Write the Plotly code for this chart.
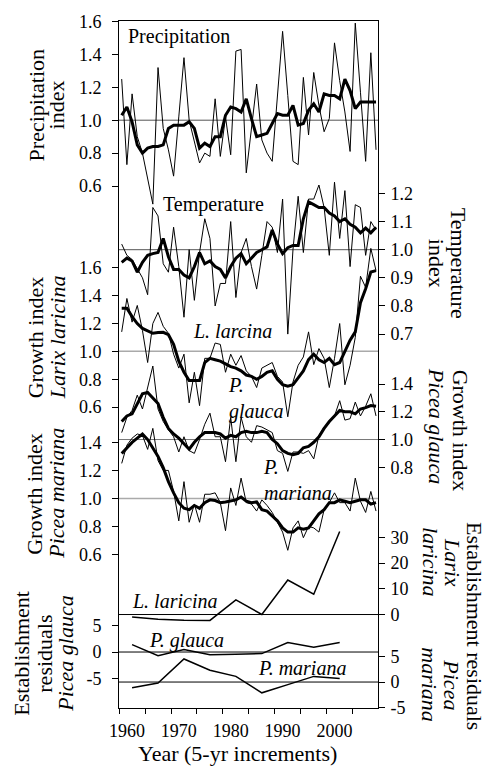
import plotly.graph_objects as go

# ---------------------------------------------------------------- data
years = list(range(1959, 2009))
est_years = [1961, 1966, 1971, 1976, 1981, 1986, 1991, 1996, 2001]

precip_annual = [1.25, 0.73, 1.16, 0.90, 0.80, 0.64, 0.49, 1.32, 0.95, 0.82,
                 0.66, 1.02, 1.38, 1.00, 0.87, 0.74, 0.80, 0.78, 1.13, 0.78,
                 1.02, 0.79, 1.42, 1.43, 0.68, 0.95, 1.22, 0.88, 0.80, 0.75,
                 1.13, 1.54, 1.15, 0.75, 0.73, 1.26, 0.91, 1.29, 1.09, 0.93,
                 1.01, 1.47, 1.24, 1.05, 0.81, 1.59, 1.17, 0.75, 1.41, 0.82]
precip_smooth = [1.03, 1.08, 0.99, 0.85, 0.80, 0.83, 0.84, 0.84, 0.85, 0.95,
                 0.97, 0.97, 0.97, 0.99, 0.95, 0.83, 0.86, 0.84, 0.90, 0.90,
                 1.03, 1.08, 1.07, 1.05, 1.13, 1.01, 0.90, 0.91, 0.92, 0.98,
                 1.04, 1.03, 1.03, 1.09, 0.97, 0.98, 1.06, 1.10, 1.05, 1.16,
                 1.15, 1.15, 1.13, 1.25, 1.18, 1.07, 1.11, 1.11, 1.11, 1.11]

temp_annual = [1.02, 0.98, 0.965, 0.93, 0.90, 0.84, 1.15, 1.12, 0.95, 0.92,
               1.08, 0.94, 0.76, 1.00, 0.82, 0.99, 1.11, 1.04, 0.80, 0.88,
               0.88, 1.10, 0.83, 0.99, 1.04, 0.94, 0.86, 0.98, 1.10, 1.08,
               0.99, 1.18, 0.70, 1.00, 1.19, 0.99, 1.18, 1.18, 1.23, 1.15,
               0.98, 1.24, 1.04, 1.21, 0.94, 1.16, 1.15, 0.98, 1.10, 1.07]
temp_smooth = [0.955, 0.97, 0.96, 0.92, 0.955, 0.98, 0.986, 0.99, 1.04, 0.975,
               0.93, 0.93, 0.91, 0.90, 0.94, 0.99, 0.95, 0.96, 0.94, 0.93,
               0.90, 0.94, 0.97, 0.986, 0.95, 0.97, 0.99, 1.00, 1.01, 1.07,
               1.02, 0.986, 1.007, 1.015, 1.015, 1.11, 1.17, 1.16, 1.15, 1.15,
               1.13, 1.12, 1.10, 1.11, 1.09, 1.08, 1.06, 1.077, 1.06, 1.08]

larix_annual = [1.14, 1.38, 1.21, 1.33, 1.15, 0.92, 1.20, 1.28, 1.18, 1.13,
                0.98, 0.88, 0.98, 0.63, 0.85, 0.61, 0.95, 0.95, 1.06, 1.05,
                0.85, 0.98, 0.90, 0.97, 0.86, 0.82, 0.74, 0.88, 0.90, 0.92,
                0.82, 0.78, 0.53, 0.78, 0.90, 0.96, 1.14, 0.905, 1.02, 0.95,
                0.74, 0.95, 1.20, 0.76, 0.90, 1.10, 1.54, 1.46, 1.74, 1.58]
larix_smooth = [1.31, 1.31, 1.25, 1.20, 1.165, 1.15, 1.13, 1.135, 1.137, 1.12,
                1.05, 0.93, 0.85, 0.79, 0.79, 0.79, 0.92, 0.95, 0.94, 0.93,
                0.91, 0.89, 0.88, 0.86, 0.83, 0.82, 0.80, 0.82, 0.85, 0.86,
                0.80, 0.76, 0.75, 0.76, 0.81, 0.86, 0.94, 0.98, 0.94, 0.92,
                0.95, 0.905, 0.92, 1.00, 1.08, 1.14, 1.35, 1.45, 1.57, 1.58]

glauca_annual = [1.05, 1.16, 1.21, 1.32, 1.22, 1.37, 1.53, 1.22, 1.13, 1.07,
                 1.02, 0.91, 1.02, 0.92, 0.90, 1.00, 1.11, 1.19, 1.02, 1.02,
                 0.84, 1.16, 0.84, 1.16, 1.02, 0.98, 1.10, 1.09, 1.07, 1.05,
                 0.92, 0.90, 0.77, 0.91, 0.91, 0.90, 0.92, 0.86, 1.03, 1.09,
                 1.13, 1.17, 1.28, 1.14, 1.15, 1.27, 1.17, 1.24, 1.33, 1.17]
glauca_smooth = [1.13, 1.17, 1.185, 1.26, 1.33, 1.34, 1.30, 1.26, 1.16, 1.08,
                 1.04, 1.01, 0.97, 0.93, 0.98, 1.02, 1.05, 1.05, 1.05, 1.04,
                 1.01, 1.03, 1.02, 1.05, 1.06, 1.05, 1.05, 1.06, 1.05, 1.00,
                 0.97, 0.92, 0.90, 0.89, 0.90, 0.94, 0.95, 0.98, 1.02, 1.08,
                 1.13, 1.17, 1.21, 1.20, 1.20, 1.185, 1.22, 1.23, 1.245, 1.24]

mariana_annual = [1.25, 1.38, 1.43, 1.46, 1.45, 1.35, 1.50, 1.27, 1.20, 1.20,
                  1.05, 0.84, 1.12, 0.83, 0.96, 0.83, 1.03, 1.03, 1.04, 0.97,
                  0.77, 1.075, 0.95, 1.145, 0.97, 0.96, 0.91, 0.99, 0.95, 0.90,
                  0.83, 0.76, 0.63, 0.79, 0.84, 0.72, 0.80, 0.79, 0.76, 0.92,
                  0.97, 1.04, 0.97, 0.97, 0.91, 1.145, 0.98, 0.90, 1.05, 0.91]
mariana_smooth = [1.32, 1.36, 1.40, 1.43, 1.46, 1.42, 1.36, 1.30, 1.22, 1.12,
                  1.04, 0.97, 0.93, 0.92, 0.95, 0.93, 0.97, 0.99, 0.985, 0.97,
                  0.975, 0.98, 0.99, 1.01, 0.98, 0.97, 0.975, 0.92, 0.91, 0.875,
                  0.84, 0.79, 0.76, 0.76, 0.79, 0.78, 0.79, 0.84, 0.89, 0.92,
                  0.97, 0.97, 0.99, 0.98, 0.97, 0.98, 0.99, 0.99, 0.96, 0.97]

est_larix = [-1.0, -1.8, -2.2, -2.3, 5.7, 0.0, 13.4, 7.9, 32.2]
est_glauca = [1.4, -0.7, 0.5, -0.5, -0.4, -0.3, 1.8, 0.9, 1.8]
est_mariana = [-1.1, -0.2, 4.5, 2.3, 1.1, -2.1, -0.5, 1.1, 0.7]

year_ticks = [1960, 1970, 1980, 1990, 2000]
precip_ticks = [0.6, 0.8, 1.0, 1.2, 1.4, 1.6]
temp_ticks = [0.7, 0.8, 0.9, 1.0, 1.1, 1.2]
larix_ticks = [0.6, 0.8, 1.0, 1.2, 1.4, 1.6]
glauca_ticks = [0.8, 1.0, 1.2, 1.4]
mariana_ticks = [0.6, 0.8, 1.0, 1.2, 1.4]
est_larix_ticks = [0, 10, 20, 30]
est_glauca_ticks = [-5, 0, 5]
est_mariana_ticks = [-5, 0, 5]

# ---------------------------------------------------------------- layout helpers
FONT = "Liberation Serif"
W, H = 487, 767
L, R, T, B = 119, 378, 12, 708          # plot area in pixels


def axis_range(v0, p0, px_per_unit):
    """Range of a stacked axis whose value v0 sits at pixel row p0."""
    return [v0 - (B - p0) / px_per_unit, v0 + (p0 - T) / px_per_unit]


def yaxis(rng, ticks, side, fmt, showline=False):
    return dict(range=rng, tickvals=ticks, ticktext=[fmt.format(t) for t in ticks],
                side=side, ticks="outside", ticklen=6, tickwidth=1, tickcolor="black",
                ticklabelstandoff=7 if side == "left" else 2,
                tickfont=dict(family=FONT, size=18, color="black"),
                showgrid=False, zeroline=False, showline=showline,
                linecolor="black", linewidth=1, fixedrange=True)


def note(text, px, py, size=20, angle=0, xanchor="center", align="center"):
    return dict(text=text, x=(px - L) / (R - L), y=(B - py) / (B - T),
                xref="paper", yref="paper", showarrow=False, textangle=angle,
                xanchor=xanchor, yanchor="middle", align=align,
                font=dict(family=FONT, size=size, color="black"))


def hline(yref, value, color, width=1):
    return dict(type="line", xref="paper", x0=0, x1=1, yref=yref, y0=value, y1=value,
                line=dict(color=color, width=width), layer="below")


fig = go.Figure()

series = [
    (precip_annual, precip_smooth, "y"),
    (temp_annual, temp_smooth, "y2"),
    (larix_annual, larix_smooth, "y3"),
    (glauca_annual, glauca_smooth, "y4"),
    (mariana_annual, mariana_smooth, "y5"),
]
for annual, smooth, ax in series:
    fig.add_trace(go.Scatter(x=years, y=annual, yaxis=ax, mode="lines",
                             line=dict(color="black", width=1)))
    fig.add_trace(go.Scatter(x=years, y=smooth, yaxis=ax, mode="lines",
                             line=dict(color="black", width=3)))

for vals, ax in [(est_larix, "y6"), (est_glauca, "y7"), (est_mariana, "y8")]:
    fig.add_trace(go.Scatter(x=est_years, y=vals, yaxis=ax, mode="lines",
                             line=dict(color="black", width=1.5)))

fig.update_layout(
    width=W, height=H,
    margin=dict(l=L, r=W - R, t=T, b=H - B, pad=0),
    paper_bgcolor="white", plot_bgcolor="white",
    font=dict(family=FONT, color="black"),
    showlegend=False, hovermode=False,
    xaxis=dict(range=[1958.48, 2008.38], tickvals=year_ticks, ticks="",
               ticklabelstandoff=6,
               tickfont=dict(family=FONT, size=18, color="black"),
               minor=dict(tickvals=[1958.5 + 5 * k for k in range(11)],
                          ticks="outside", ticklen=5, tickcolor="black", tickwidth=1),
               showgrid=False, zeroline=False, showline=True, mirror=True,
               linecolor="black", linewidth=1, fixedrange=True),
    yaxis=yaxis(axis_range(1.0, 112.5, 166.7), precip_ticks, "left", "{:.1f}", showline=True),
    yaxis2=dict(yaxis(axis_range(1.0, 243.7, 285), temp_ticks, "right", "{:.1f}", showline=True),
                overlaying="y", anchor="x"),
    yaxis3=dict(yaxis(axis_range(1.0, 346.7, 141), larix_ticks, "left", "{:.1f}"),
                overlaying="y", anchor="x"),
    yaxis4=dict(yaxis(axis_range(1.0, 436.0, 140.5), glauca_ticks, "right", "{:.1f}"),
                overlaying="y", anchor="x"),
    yaxis5=dict(yaxis(axis_range(1.0, 495.7, 142), mariana_ticks, "left", "{:.1f}"),
                overlaying="y", anchor="x"),
    yaxis6=dict(yaxis(axis_range(0, 613.3, 2.61), est_larix_ticks, "right", "{:d}"),
                overlaying="y", anchor="x"),
    yaxis7=dict(yaxis(axis_range(0, 651.3, 5.34), est_glauca_ticks, "left", "{:d}"),
                overlaying="y", anchor="x"),
    yaxis8=dict(yaxis(axis_range(0, 681.7, 5.2), est_mariana_ticks, "right", "{:d}"),
                overlaying="y", anchor="x"),
    shapes=[
        hline("y", 1.0, "#555555"),
        hline("y2", 1.0, "#555555"),
        hline("y3", 1.0, "#aaaaaa", 1.5),
        hline("y4", 1.0, "#777777"),
        hline("y5", 1.0, "#aaaaaa", 1.5),
        hline("y6", 0, "black"),
        hline("y7", 0, "black"),
        hline("y8", 0, "black"),
    ],
    annotations=[
        # left axis titles
        note("Precipitation", 36, 97.5, 22, -90),
        note("index", 56, 97.5, 22, -90),
        note("Growth index", 35, 332.5, 22, -90),
        note("<i>Larix laricina</i>", 57, 332.5, 22, -90),
        note("Growth index", 35, 491, 22, -90),
        note("<i>Picea mariana</i>", 57, 491, 22, -90),
        note("Establishment", 22, 653, 22, -90),
        note("residuals", 45, 653, 22, -90),
        note("<i>Picea glauca</i>", 66, 653, 22, -90),
        # right axis titles
        note("Temperature", 458, 257, 22, 90),
        note("index", 436, 257, 22, 90),
        note("Growth index", 460, 427, 22, 90),
        note("<i>Picea glauca</i>", 436, 422, 22, 90),
        note("Establishment residuals", 475, 625, 22, 90),
        note("<i>Larix</i>", 452, 560, 22, 90),
        note("<i>laricina</i>", 430, 560, 22, 90),
        note("<i>Picea</i>", 452, 684, 22, 90),
        note("<i>mariana</i>", 430, 684, 22, 90),
        # x title
        note("Year (5-yr increments)", 237, 754, 22),
        # series labels
        note("Precipitation", 179, 28),
        note("Temperature", 213, 198),
        note("<i>L. larcina</i>", 232.5, 326),
        note("<i>P.</i><br><i>glauca</i>", 226, 394, xanchor="left", align="left"),
        note("<i>P.</i><br><i>mariana</i>", 261, 477, xanchor="left", align="left"),
        note("<i>L. laricina</i>", 174, 600),
        note("<i>P. glauca</i>", 186, 640),
        note("<i>P. mariana</i>", 302, 667),
    ],
)

fig.write_html("out.html")
